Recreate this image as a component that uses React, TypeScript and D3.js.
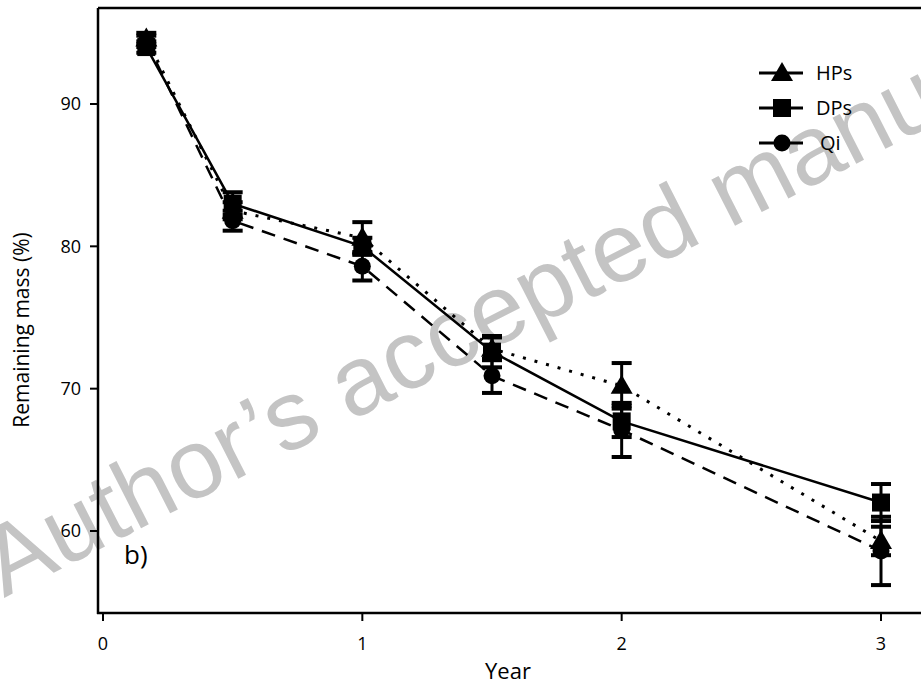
import React, { useEffect, useRef } from "react";
import * as d3 from "d3";

// sampling times (years) and remaining mass (%) with error bars
const years = [0.167, 0.5, 1, 1.5, 2, 3];
const hpsMean = [94.6, 82.5, 80.6, 72.8, 70.2, 59.3];
const hpsErr = [0.4, 0.6, 1.1, 0.8, 1.6, 1.0];
const dpsMean = [94.0, 83.0, 80.0, 72.6, 67.7, 62.0];
const dpsErr = [0.4, 0.8, 0.6, 1.1, 1.1, 1.3];
const qiMean = [94.4, 81.8, 78.6, 70.9, 67.1, 58.6];
const qiErr = [0.4, 0.7, 1.0, 1.2, 1.9, 2.4];

const xTicks = [0, 1, 2, 3];
const yTicks = [60, 70, 80, 90];

type Shape = "triangle" | "square" | "circle";
interface Series {
  name: string;
  mean: number[];
  err: number[];
  shape: Shape;
  dash: string | null;
}

const series: Series[] = [
  { name: "HPs", mean: hpsMean, err: hpsErr, shape: "triangle", dash: "3,9" },
  { name: "DPs", mean: dpsMean, err: dpsErr, shape: "square", dash: null },
  { name: "Qi", mean: qiMean, err: qiErr, shape: "circle", dash: "14,9" },
];

const FONT = "'Open Sans', 'Noto Sans', sans-serif";

const App: React.FC = () => {
  const svgRef = useRef<SVGSVGElement>(null);

  useEffect(() => {
    if (!svgRef.current) return;
    const width = 921;
    const height = 686;
    const svg = d3.select(svgRef.current);
    svg.attr("width", width).attr("height", height);

    const x = d3.scaleLinear().domain([0, 3]).range([103, 881]);
    const y = d3.scaleLinear().domain([60, 90]).range([531, 104]);
    const left = 98;
    const top = 8;
    const bottom = 613;

    // watermark behind everything
    svg
      .append("text")
      .attr("transform", "translate(4,598) rotate(-27)")
      .attr("fill", "#c4c4c4")
      .style("font-family", "'Liberation Sans', Arial, sans-serif")
      .style("font-size", "98px")
      .text("Author\u2019s accepted manu");

    // frame
    const frame = svg.append("g").attr("stroke", "#000").attr("stroke-width", 2.5);
    frame.append("line").attr("x1", left).attr("x2", left).attr("y1", top).attr("y2", bottom + 1);
    frame.append("line").attr("x1", left).attr("x2", width).attr("y1", top).attr("y2", top);
    frame.append("line").attr("x1", left - 1).attr("x2", width).attr("y1", bottom).attr("y2", bottom);

    // y axis ticks
    const yAxis = svg.append("g");
    yAxis
      .selectAll("line")
      .data(yTicks)
      .enter()
      .append("line")
      .attr("x1", left - 8)
      .attr("x2", left)
      .attr("y1", (d) => y(d))
      .attr("y2", (d) => y(d))
      .attr("stroke", "#000")
      .attr("stroke-width", 2);
    yAxis
      .selectAll("text")
      .data(yTicks)
      .enter()
      .append("text")
      .attr("x", 81)
      .attr("y", (d) => y(d))
      .attr("dy", "0.35em")
      .attr("text-anchor", "end")
      .style("font-family", FONT)
      .style("font-size", "18px")
      .text((d) => d);

    // x axis ticks
    const xAxis = svg.append("g");
    xAxis
      .selectAll("line")
      .data(xTicks)
      .enter()
      .append("line")
      .attr("x1", (d) => x(d))
      .attr("x2", (d) => x(d))
      .attr("y1", bottom)
      .attr("y2", bottom + 8)
      .attr("stroke", "#000")
      .attr("stroke-width", 2);
    xAxis
      .selectAll("text")
      .data(xTicks)
      .enter()
      .append("text")
      .attr("x", (d) => x(d))
      .attr("y", 650)
      .attr("text-anchor", "middle")
      .style("font-family", FONT)
      .style("font-size", "18px")
      .text((d) => d);

    svg
      .append("text")
      .attr("x", 508)
      .attr("y", 679)
      .attr("text-anchor", "middle")
      .style("font-family", FONT)
      .style("font-size", "22px")
      .text("Year");

    svg
      .append("text")
      .attr("transform", "translate(29,330) rotate(-90)")
      .attr("text-anchor", "middle")
      .style("font-family", FONT)
      .style("font-size", "21px")
      .text("Remaining mass (%)");

    svg
      .append("text")
      .attr("x", 124)
      .attr("y", 564)
      .style("font-family", FONT)
      .style("font-size", "26px")
      .text("b)");

    const drawMarker = (
      g: d3.Selection<SVGGElement, unknown, null, undefined>,
      shape: Shape,
      cx: number,
      cy: number
    ) => {
      if (shape === "square") {
        g.append("rect")
          .attr("x", cx - 9)
          .attr("y", cy - 9)
          .attr("width", 18)
          .attr("height", 18)
          .attr("fill", "#000");
      } else if (shape === "circle") {
        g.append("circle").attr("cx", cx).attr("cy", cy).attr("r", 8.5).attr("fill", "#000");
      } else {
        g.append("path")
          .attr("d", `M${cx},${cy - 11}L${cx + 11},${cy + 8}L${cx - 11},${cy + 8}Z`)
          .attr("fill", "#000");
      }
    };

    const plot = svg.append("g");
    const line = d3
      .line<number>()
      .x((_, i) => x(years[i]))
      .y((d) => y(d));

    // lines
    series.forEach((s) => {
      plot
        .append("path")
        .datum(s.mean)
        .attr("fill", "none")
        .attr("stroke", "#000")
        .attr("stroke-width", s.dash === "3,9" ? 3 : 2.5)
        .attr("stroke-dasharray", s.dash)
        .attr("d", line);
    });

    // error bars
    series.forEach((s) => {
      const eb = plot.append("g").attr("stroke", "#000").attr("stroke-width", 3);
      s.mean.forEach((m, i) => {
        const cx = x(years[i]);
        const y0 = y(m - s.err[i]);
        const y1 = y(m + s.err[i]);
        eb.append("line").attr("x1", cx).attr("x2", cx).attr("y1", y0).attr("y2", y1);
        eb.append("line").attr("x1", cx - 10).attr("x2", cx + 10).attr("y1", y0).attr("y2", y0).attr("stroke-width", 4);
        eb.append("line").attr("x1", cx - 10).attr("x2", cx + 10).attr("y1", y1).attr("y2", y1).attr("stroke-width", 4);
      });
    });

    // markers
    series.forEach((s) => {
      const mg = plot.append("g");
      s.mean.forEach((m, i) => drawMarker(mg, s.shape, x(years[i]), y(m)));
    });

    // legend
    const legendY = [73, 108, 143];
    series.forEach((s, i) => {
      const lg = svg.append("g");
      lg.append("line")
        .attr("x1", 759)
        .attr("x2", 803)
        .attr("y1", legendY[i])
        .attr("y2", legendY[i])
        .attr("stroke", "#000")
        .attr("stroke-width", 3);
      drawMarker(lg, s.shape, 782, legendY[i]);
      lg.append("text")
        .attr("x", i === 2 ? 820 : 816)
        .attr("y", legendY[i])
        .attr("dy", "0.35em")
        .style("font-family", FONT)
        .style("font-size", "20px")
        .text(s.name);
    });

    return () => {
      svg.selectAll("*").remove();
    };
  }, []);

  return (
    <svg
      ref={svgRef}
      style={{ position: "absolute", left: 0, top: 0, background: "#fff" }}
    />
  );
};

export default App;
